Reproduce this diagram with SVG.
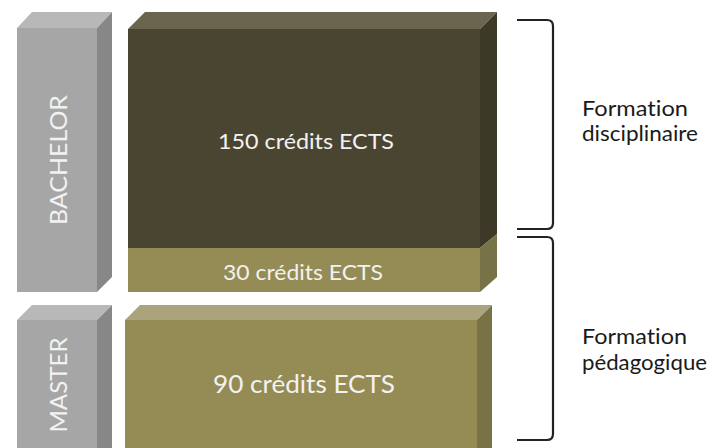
<svg xmlns="http://www.w3.org/2000/svg" width="717" height="448" viewBox="0 0 717 448">
<style>
text{font-variant-ligatures:none;font-feature-settings:"liga" 0,"dlig" 0}
.gf{fill:#a6a6a6}.gt{fill:#b8b8b8}.gs{fill:#878787}
.df{fill:#4a4530}.dt{fill:#6b6550}.ds{fill:#3d3927}
.of{fill:#958c55}.ot{fill:#aba37b}.os{fill:#787247}
.lbl{font-family:Lato,"Liberation Sans",Arial,sans-serif;fill:#f2f2f2;text-anchor:middle}
.side{font-family:Lato,"Liberation Sans",Arial,sans-serif;fill:#1a1a1a;font-size:21.5px}
.brace{fill:none;stroke:#222;stroke-width:2.2;stroke-linejoin:round}
</style>
<rect width="717" height="448" fill="#ffffff"/>
<g id="bachelor">
<polygon class="gt" points="17,28 32,12 112,12 97,28"/>
<polygon class="gs" points="97,28 112,12 112,277 97,292"/>
<rect class="gf" x="17" y="28" width="80" height="264"/>
<text class="lbl" font-size="24" textLength="130" lengthAdjust="spacingAndGlyphs" transform="translate(67,160) rotate(-90)">BACHELOR</text>
</g>
<g id="master">
<polygon class="gt" points="17,320 32,305 112,305 97,320"/>
<polygon class="gs" points="97,320 112,305 112,448 97,448"/>
<rect class="gf" x="17" y="320" width="80" height="128"/>
<text class="lbl" font-size="24" textLength="95" lengthAdjust="spacingAndGlyphs" transform="translate(67,385) rotate(-90)">MASTER</text>
</g>
<g id="credits150">
<polygon class="dt" points="128,29 145,12 497,12 480,29"/>
<polygon class="ds" points="480,29 497,12 497,234 480,248"/>
<rect class="df" x="128" y="29" width="352" height="219"/>
<text class="lbl" font-size="22" x="306" y="149" textLength="176" lengthAdjust="spacingAndGlyphs">150 crédits ECTS</text>
</g>
<g id="credits30">
<polygon class="os" points="480,248 497,234 497,277 480,292"/>
<rect class="of" x="128" y="248" width="352" height="44"/>
<text class="lbl" font-size="22" x="303" y="280" textLength="160" lengthAdjust="spacingAndGlyphs">30 crédits ECTS</text>
</g>
<g id="credits90">
<polygon class="ot" points="125,320 140,305 492,305 477,320"/>
<polygon class="os" points="477,320 492,305 492,448 477,448"/>
<rect class="of" x="125" y="320" width="352" height="128"/>
<text class="lbl" font-size="25" x="304" y="393" textLength="182" lengthAdjust="spacingAndGlyphs">90 crédits ECTS</text>
</g>
<g id="connectors">
<path class="brace" d="M517,20 L547,20 Q553,20 553,26 L553,223 Q553,229 547,229 L517,229"/>
<path class="brace" d="M517,237 L547,237 Q553,237 553,243 L553,434 Q553,440 547,440 L517,440"/>
</g>
<g id="label-disciplinaire">
<text class="side" x="582" y="116" textLength="106" lengthAdjust="spacingAndGlyphs">Formation</text>
<text class="side" x="582" y="141" textLength="116" lengthAdjust="spacingAndGlyphs">disciplinaire</text>
</g>
<g id="label-pedagogique">
<text class="side" x="582" y="344" textLength="105" lengthAdjust="spacingAndGlyphs">Formation</text>
<text class="side" x="582" y="370" textLength="125" lengthAdjust="spacingAndGlyphs">pédagogique</text>
</g>
</svg>
